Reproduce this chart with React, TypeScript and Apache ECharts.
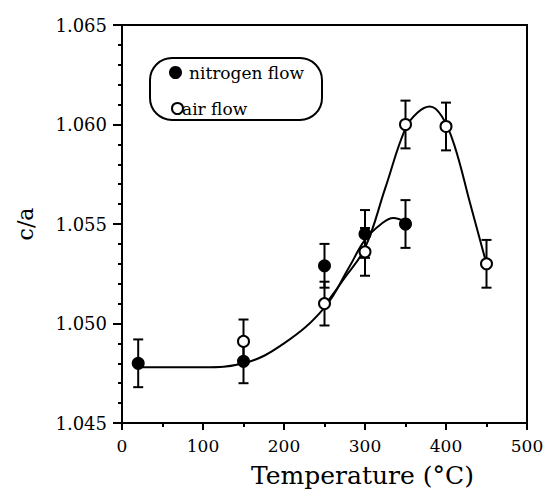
import React, { useEffect, useRef } from "react";
import * as echarts from "echarts";

const nitrogenT = [20, 150, 250, 300, 350];
const nitrogenCA = [1.048, 1.0481, 1.0529, 1.0545, 1.055];
const nitrogenErr = [0.0012, 0.0011, 0.0011, 0.0012, 0.0012];

const airT = [150, 250, 300, 350, 400, 450];
const airCA = [1.0491, 1.051, 1.0536, 1.06, 1.0599, 1.053];
const airErr = [0.0011, 0.0011, 0.0012, 0.0012, 0.0012, 0.0012];

const nitrogenFitT = [20, 60, 100, 150, 200, 250, 280, 300, 320, 335, 350];
const nitrogenFitCA = [1.0478, 1.0478, 1.0478, 1.048, 1.049, 1.0508, 1.0528, 1.0542, 1.055, 1.0553, 1.0551];

const airFitT = [250, 275, 300, 325, 350, 365, 380, 395, 410, 430, 450];
const airFitCA = [1.0509, 1.0523, 1.0538, 1.0568, 1.0598, 1.0606, 1.0609, 1.0604, 1.059, 1.056, 1.053];

const xTicks = [0, 100, 200, 300, 400, 500];
const yTicks = [1.045, 1.05, 1.055, 1.06, 1.065];

const FONT = "DejaVu Serif";

function errData(t: number[], v: number[], e: number[]) {
  return t.map((x, i) => [x, v[i] - e[i], v[i] + e[i]]);
}

function errorRender(params: any, api: any) {
  const x = api.value(0);
  const lo = api.coord([x, api.value(1)]);
  const hi = api.coord([x, api.value(2)]);
  const hw = 5;
  const style = { stroke: "#000", lineWidth: 2 };
  return {
    type: "group",
    children: [
      { type: "line", shape: { x1: lo[0], y1: lo[1], x2: hi[0], y2: hi[1] }, style },
      { type: "line", shape: { x1: lo[0] - hw, y1: lo[1], x2: lo[0] + hw, y2: lo[1] }, style },
      { type: "line", shape: { x1: hi[0] - hw, y1: hi[1], x2: hi[0] + hw, y2: hi[1] }, style },
    ],
  };
}

export default function App() {
  const ref = useRef<HTMLDivElement>(null);
  useEffect(() => {
    document.body.style.margin = "0";
    if (!ref.current) return;
    const chart = echarts.init(ref.current, null, { renderer: "svg" });
    chart.setOption({
      animation: false,
      backgroundColor: "#fff",
      textStyle: { fontFamily: FONT, color: "#000" },
      grid: {
        left: 122,
        right: 20,
        top: 25,
        bottom: 72,
        show: true,
        borderColor: "#000",
        borderWidth: 2,
        backgroundColor: "transparent",
      },
      legend: [
        {
          data: ["nitrogen flow"],
          left: 164,
          top: 59,
          itemWidth: 13,
          itemHeight: 13,
          textStyle: { fontFamily: FONT, fontSize: 17, color: "#000", padding: [0, 0, 0, 2] },
        },
        {
          data: ["air flow"],
          left: 166,
          top: 95,
          itemWidth: 11,
          itemHeight: 11,
          textStyle: { fontFamily: FONT, fontSize: 17, color: "#000", padding: [0, 0, 0, -6] },
        },
      ],
      graphic: [
        {
          type: "rect",
          shape: { x: 150, y: 58, width: 172, height: 62, r: 22 },
          style: { fill: "none", stroke: "#000", lineWidth: 2 },
          z: 10,
        },
      ],
      xAxis: {
        type: "value",
        min: 0,
        max: 500,
        interval: 100,
        name: "Temperature (°C)",
        nameLocation: "middle",
        nameGap: 40,
        nameTextStyle: { fontFamily: FONT, fontSize: 25, color: "#000", padding: [0, 0, 0, 76] },
        axisLine: { show: true, lineStyle: { color: "#000", width: 2 } },
        axisTick: { show: true, inside: false, length: 7, lineStyle: { color: "#000", width: 2 } },
        minorTick: { show: true, splitNumber: 2, length: 4, lineStyle: { color: "#000", width: 2 } },
        splitLine: { show: false },
        axisLabel: {
          fontFamily: FONT,
          fontSize: 17,
          color: "#000",
          margin: 14,
          formatter: (v: number) => (xTicks.includes(v) ? String(v) : ""),
        },
      },
      yAxis: {
        type: "value",
        min: 1.045,
        max: 1.065,
        interval: 0.005,
        name: "c/a",
        nameLocation: "middle",
        nameGap: 86,
        nameTextStyle: { fontFamily: FONT, fontSize: 22, color: "#000" },
        axisLine: { show: true, lineStyle: { color: "#000", width: 2 } },
        axisTick: { show: true, inside: false, length: 9, lineStyle: { color: "#000", width: 2 } },
        minorTick: { show: true, splitNumber: 5, length: 4, lineStyle: { color: "#000", width: 2 } },
        splitLine: { show: false },
        axisLabel: {
          fontFamily: FONT,
          fontSize: 18,
          color: "#000",
          margin: 15,
          formatter: (v: number) => {
            const s = v.toFixed(3);
            return yTicks.some((t) => t.toFixed(3) === s) ? s : "";
          },
        },
      },
      series: [
        {
          name: "nitrogen fit",
          type: "line",
          data: nitrogenFitT.map((t, i) => [t, nitrogenFitCA[i]]),
          smooth: 0.4,
          showSymbol: false,
          lineStyle: { color: "#000", width: 2 },
          z: 2,
          silent: true,
        },
        {
          name: "air fit",
          type: "line",
          data: airFitT.map((t, i) => [t, airFitCA[i]]),
          smooth: 0.4,
          showSymbol: false,
          lineStyle: { color: "#000", width: 2 },
          z: 2,
          silent: true,
        },
        {
          name: "nitrogen err",
          type: "custom",
          renderItem: errorRender,
          data: errData(nitrogenT, nitrogenCA, nitrogenErr),
          encode: { x: 0, y: [1, 2] },
          z: 3,
          silent: true,
        },
        {
          name: "air err",
          type: "custom",
          renderItem: errorRender,
          data: errData(airT, airCA, airErr),
          encode: { x: 0, y: [1, 2] },
          z: 3,
          silent: true,
        },
        {
          name: "nitrogen flow",
          type: "scatter",
          data: nitrogenT.map((t, i) => [t, nitrogenCA[i]]),
          symbol: "circle",
          symbolSize: 13,
          itemStyle: { color: "#000", borderColor: "#000", borderWidth: 0, opacity: 1 },
          z: 5,
        },
        {
          name: "air flow",
          type: "scatter",
          data: airT.map((t, i) => [t, airCA[i]]),
          symbol: "circle",
          symbolSize: 11,
          itemStyle: { color: "#fff", borderColor: "#000", borderWidth: 2, opacity: 1 },
          z: 5,
        },
      ],
    });
    return () => chart.dispose();
  }, []);
  return <div ref={ref} style={{ width: 547, height: 495 }} />;
}
